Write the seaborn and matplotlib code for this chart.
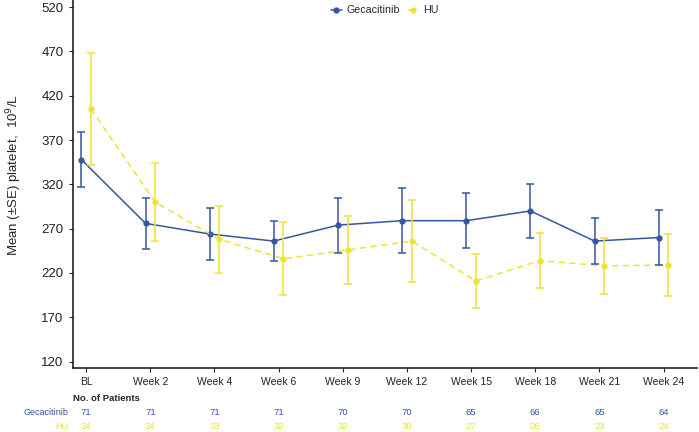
import numpy as np
import pandas as pd
import matplotlib.pyplot as plt
import matplotlib.transforms as mtransforms
import seaborn as sns

sns.set_style('ticks')
plt.rcParams['font.family'] = ['Liberation Sans', 'DejaVu Sans']

# data
visits = ['BL', 'Week 2', 'Week 4', 'Week 6', 'Week 9', 'Week 12',
          'Week 15', 'Week 18', 'Week 21', 'Week 24']
geca_mean = [348, 276, 264, 256, 274, 279, 279, 290, 256, 260]
geca_se = [31, 29, 29, 23, 31, 37, 31, 30, 26, 31]
hu_mean = [405, 300, 258, 236, 246, 256, 211, 234, 228, 229]
hu_se = [63, 44, 38, 41, 38, 46, 30, 31, 32, 35]
geca_n = [71, 71, 71, 71, 70, 70, 65, 66, 65, 64]
hu_n = [34, 34, 33, 32, 32, 30, 27, 26, 23, 24]

blue = '#3457A0'
yellow = '#EFE234'
dodge = 0.075

idx = np.arange(len(visits))
df = pd.DataFrame({
    'x': np.concatenate([idx - dodge, idx + dodge]),
    'mean': geca_mean + hu_mean,
    'se': geca_se + hu_se,
    'group': ['Gecacitinib'] * len(visits) + ['HU'] * len(visits),
})

fig = plt.figure(figsize=(6.99, 4.32), dpi=100)
ax = fig.add_axes([0.104, 0.1475, 0.893, 0.8525])

pal = {'Gecacitinib': blue, 'HU': yellow}
sns.lineplot(data=df, x='x', y='mean', hue='group', style='group',
             palette=pal, markers={'Gecacitinib': 'o', 'HU': 'o'},
             dashes={'Gecacitinib': '', 'HU': (4, 3)},
             markersize=4.5, markeredgewidth=0, linewidth=1.1, ax=ax)

for g, c in pal.items():
    sub = df[df['group'] == g]
    ax.errorbar(sub['x'], sub['mean'], yerr=sub['se'], fmt='none',
                ecolor=c, elinewidth=1.1, capsize=3.2, capthick=1.1)

ax.set_xlim(-0.21, 9.52)
ax.set_ylim(112.5, 528)
ax.set_xticks(idx)
ax.set_xticklabels(visits, fontsize=7.5, color='#222222')
ax.set_yticks(np.arange(120, 521, 50))
ax.tick_params(axis='y', labelsize=9.5, labelcolor='#222222', length=3, width=0.8)
ax.tick_params(axis='x', length=3, width=0.8)
ax.set_xlabel('')
ax.set_ylabel('Mean (\u00b1SE) platelet,  10$^{9}$/L', fontsize=9.5)
ax.yaxis.set_label_coords(-0.078, 0.525)
sns.despine(ax=ax)
for s in ['left', 'bottom']:
    ax.spines[s].set_linewidth(1.2)
    ax.spines[s].set_color('#222222')

ax.legend(loc='upper center', bbox_to_anchor=(0.5, 1.0), ncol=2, frameon=False,
          fontsize=7.7, handlelength=1.0, handletextpad=0.4, columnspacing=0.8,
          borderaxespad=0.1)

# number at risk table
trans = mtransforms.blended_transform_factory(ax.transData, fig.transFigure)
fig.text(0.105, 1 - 398.7 / 432, 'No. of Patients', fontsize=6.8,
         fontweight='bold', va='center', ha='left')
fig.text(68 / 699, 1 - 412.7 / 432, 'Gecacitinib', fontsize=6.5, color=blue,
         va='center', ha='right')
fig.text(68 / 699, 1 - 426.7 / 432, 'HU', fontsize=6.5, color=yellow,
         va='center', ha='right')
for i in idx:
    ax.text(i, 1 - 412.7 / 432, str(geca_n[i]), transform=trans, fontsize=6.8,
            color=blue, va='center', ha='center')
    ax.text(i, 1 - 426.7 / 432, str(hu_n[i]), transform=trans, fontsize=6.8,
            color=yellow, va='center', ha='center')

fig.savefig('out.png', dpi=100)
